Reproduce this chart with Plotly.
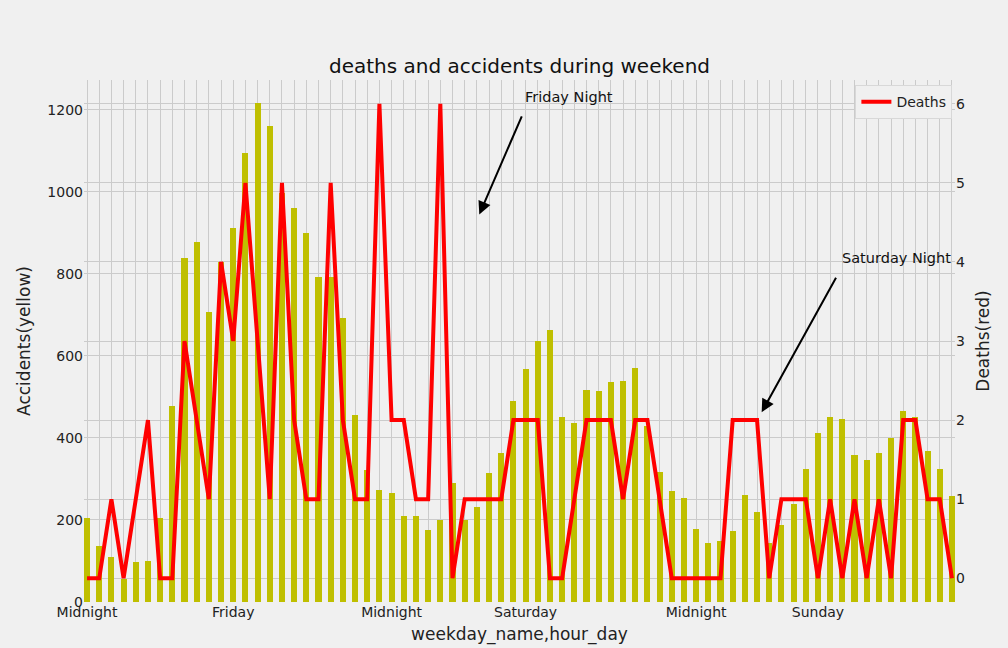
import plotly.graph_objs as go

# hourly counts, Friday 00:00 through Sunday 23:00
hours = list(range(72))
accidents = [
  204, 136, 109, 55, 97, 99, 204, 477, 839, 878, 707, 830,
  912, 1095, 1217, 1161, 997, 960, 900, 792, 792, 693, 456, 321,
  273, 266, 210, 210, 176, 200, 290, 200, 231, 315, 364, 490,
  569, 637, 663, 450, 436, 517, 514, 536, 539, 571, 429, 317,
  271, 253, 177, 145, 148, 172, 261, 220, 145, 187, 239, 324,
  412, 450, 446, 358, 346, 363, 399, 466, 450, 368, 324, 258
]
deaths = [
  0, 0, 1, 0, 1, 2, 0, 0, 3, 2, 1, 4,
  3, 5, 3, 1, 5, 2, 1, 1, 5, 2, 1, 1,
  6, 2, 2, 1, 1, 6, 0, 1, 1, 1, 1, 2,
  2, 2, 0, 0, 1, 2, 2, 2, 1, 2, 2, 1,
  0, 0, 0, 0, 0, 2, 2, 2, 0, 1, 1, 1,
  0, 1, 0, 1, 0, 1, 0, 2, 2, 1, 1, 0
]
tick_labels = {0: "Midnight", 12: "Friday", 25: "Midnight", 36: "Saturday", 50: "Midnight", 60: "Sunday"}
left_ticks = [0, 200, 400, 600, 800, 1000, 1200]
right_ticks = [0, 1, 2, 3, 4, 5, 6]

font = "DejaVu Sans"
grid = "#cbcbcb"
bg = "#f0f0f0"

fig = go.Figure()
fig.add_trace(go.Bar(x=hours, y=accidents, width=0.5, marker_color="#bfbf00",
                     marker_line_width=0, showlegend=False, name="Accidents"))
fig.add_trace(go.Scatter(x=hours, y=deaths, mode="lines", yaxis="y2", name="Deaths",
                         line=dict(color="#ff0000", width=4)))

fig.update_layout(
  width=1008, height=648,
  paper_bgcolor=bg, plot_bgcolor=bg,
  margin=dict(l=84, r=53, t=80, b=46),
  font=dict(family=font, size=14, color="#222222"),
  title=dict(text="deaths and accidents during weekend", x=0.5, xref="paper", xanchor="center",
             y=1 - 66 / 648, yanchor="middle", font=dict(size=20, color="#111111")),
  xaxis=dict(range=[-0.25, 71.25], tickmode="array", tickvals=hours,
             ticktext=[tick_labels.get(h, "") for h in hours],
             showgrid=True, gridcolor=grid, gridwidth=1, zeroline=False,
             ticks="", tickfont=dict(size=14), automargin=False,
             title=dict(text="weekday_name,hour_day", font=dict(size=17), standoff=9)),
  yaxis=dict(range=[0, 1273], tickvals=left_ticks, showgrid=True, gridcolor=grid, gridwidth=1,
             zeroline=False, ticks="", tickfont=dict(size=14), automargin=False,
             title=dict(text="Accidents(yellow)", font=dict(size=17), standoff=12)),
  yaxis2=dict(range=[-0.3, 6.3], tickvals=right_ticks, overlaying="y", side="right",
              showgrid=True, gridcolor=grid, gridwidth=1, zeroline=False, ticks="",
              tickfont=dict(size=14), automargin=False,
              title=dict(text="Deaths(red)", font=dict(size=17), standoff=13)),
  legend=dict(x=0.997, y=0.99, xanchor="right", yanchor="top", bgcolor=bg,
              bordercolor="#d8d8d8", borderwidth=1, font=dict(size=14)),
  bargap=0,
)

# arrows and labels for the two night peaks
fig.add_annotation(x=32.2, y=4.6, xref="x", yref="y2", ax=35.74, ay=5.86, axref="x", ayref="y2",
                   text="", showarrow=True, arrowhead=2, arrowsize=1.3, arrowwidth=2, arrowcolor="black")
fig.add_annotation(x=35.75, y=6.08, xref="x", yref="y2", text="Friday Night", showarrow=False,
                   xanchor="left", yanchor="middle", font=dict(size=14.5, color="#111111"))
fig.add_annotation(x=55.38, y=2.1, xref="x", yref="y2", ax=61.55, ay=3.82, axref="x", ayref="y2",
                   text="", showarrow=True, arrowhead=2, arrowsize=1.3, arrowwidth=2, arrowcolor="black")
fig.add_annotation(x=61.8, y=4.05, xref="x", yref="y2", text="Saturday Night", showarrow=False,
                   xanchor="left", yanchor="middle", font=dict(size=14.5, color="#111111"))

# drop the default page margin so the figure sits at the window corner
fig.write_html("out.html", config={"displayModeBar": False},
               post_script="document.body.style.margin='0';")
